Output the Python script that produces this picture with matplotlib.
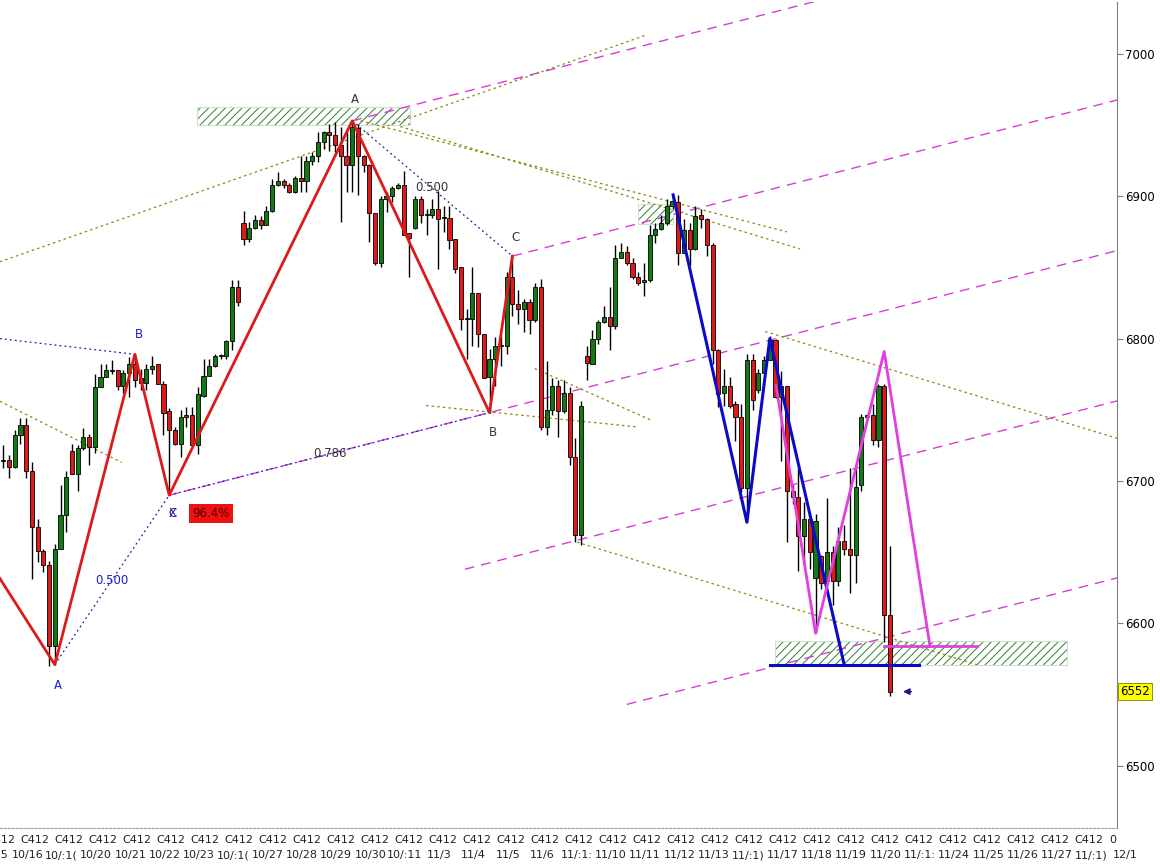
import matplotlib
matplotlib.use("Agg")
import matplotlib.pyplot as plt
from matplotlib.patches import Rectangle
from matplotlib.transforms import blended_transform_factory


# ------------------------------
# 1. data (4h bars, index 0 = first bar on screen)
# ------------------------------
opens = [6715, 6715, 6710, 6732, 6739, 6707, 6668, 6651, 6641, 6584,
         6652, 6676, 6721, 6705, 6723, 6731, 6724, 6766, 6773, 6777,
         6778, 6767, 6776, 6782, 6772, 6769, 6779, 6782, 6768, 6749,
         6736, 6726, 6746, 6746, 6725, 6760, 6774, 6781, 6788, 6788,
         6798, 6836, 6881, 6870, 6878, 6883, 6880, 6890, 6908, 6911,
         6908, 6903, 6913, 6911, 6925, 6928, 6938, 6945, 6943, 6936,
         6928, 6922, 6948, 6928, 6922, 6888, 6853, 6898, 6900, 6906,
         6908, 6874, 6878, 6898, 6887, 6887, 6891, 6885, 6885, 6870,
         6850, 6814, 6814, 6832, 6803, 6773, 6786, 6795, 6795, 6843,
         6824, 6821, 6826, 6813, 6836, 6738, 6750, 6767, 6749, 6762,
         6717, 6662, 6788, 6782, 6800, 6812, 6815, 6809, 6857, 6861,
         6853, 6843, 6840, 6841, 6873, 6877, 6881, 6893, 6896, 6860,
         6876, 6863, 6887, 6884, 6866, 6792, 6762, 6767, 6754, 6745,
         6695, 6785, 6764, 6776, 6785, 6799, 6759, 6767, 6693, 6689,
         6661, 6673, 6632, 6647, 6630, 6650, 6630, 6658, 6652, 6648,
         6697, 6745, 6746, 6729, 6767, 6606]
highs = [6725, 6718, 6736, 6744, 6744, 6713, 6673, 6652, 6644, 6656,
         6697, 6707, 6726, 6725, 6737, 6733, 6775, 6782, 6782, 6785,
         6778, 6778, 6787, 6789, 6779, 6782, 6788, 6782, 6770, 6751,
         6738, 6750, 6752, 6752, 6766, 6786, 6786, 6789, 6789, 6799,
         6841, 6841, 6890, 6882, 6887, 6886, 6893, 6912, 6917, 6912,
         6909, 6914, 6928, 6928, 6931, 6945, 6946, 6951, 6952, 6949,
         6948, 6953, 6951, 6929, 6923, 6888, 6900, 6903, 6907, 6909,
         6918, 6874, 6900, 6900, 6891, 6898, 6904, 6893, 6893, 6870,
         6850, 6821, 6850, 6832, 6803, 6793, 6801, 6802, 6847, 6858,
         6834, 6828, 6828, 6839, 6842, 6784, 6772, 6771, 6771, 6766,
         6730, 6756, 6795, 6806, 6813, 6823, 6836, 6866, 6867, 6865,
         6857, 6847, 6853, 6880, 6881, 6887, 6898, 6901, 6901, 6884,
         6881, 6893, 6891, 6885, 6867, 6793, 6779, 6773, 6756, 6754,
         6789, 6789, 6779, 6788, 6802, 6800, 6777, 6767, 6697, 6709,
         6685, 6676, 6677, 6648, 6688, 6654, 6668, 6669, 6709, 6709,
         6747, 6747, 6754, 6768, 6768, 6654]
lows = [6709, 6702, 6709, 6726, 6702, 6631, 6643, 6636, 6570, 6571,
        6652, 6664, 6705, 6693, 6722, 6711, 6720, 6766, 6773, 6775,
        6764, 6762, 6759, 6766, 6764, 6764, 6775, 6768, 6732, 6690,
        6725, 6717, 6738, 6725, 6719, 6759, 6774, 6780, 6786, 6786,
        6792, 6823, 6866, 6868, 6877, 6877, 6880, 6889, 6907, 6906,
        6902, 6902, 6903, 6903, 6922, 6924, 6933, 6932, 6931, 6882,
        6903, 6903, 6901, 6917, 6868, 6852, 6850, 6889, 6896, 6905,
        6873, 6843, 6877, 6881, 6873, 6885, 6849, 6875, 6863, 6846,
        6806, 6786, 6795, 6794, 6772, 6748, 6767, 6781, 6789, 6816,
        6810, 6805, 6803, 6812, 6736, 6732, 6746, 6731, 6748, 6711,
        6657, 6655, 6771, 6782, 6796, 6811, 6792, 6807, 6857, 6852,
        6842, 6838, 6830, 6840, 6867, 6876, 6880, 6891, 6852, 6860,
        6852, 6862, 6878, 6858, 6782, 6752, 6753, 6751, 6728, 6692,
        6671, 6750, 6762, 6775, 6785, 6758, 6714, 6657, 6684, 6637,
        6642, 6638, 6593, 6624, 6627, 6613, 6626, 6648, 6621, 6628,
        6693, 6743, 6725, 6724, 6587, 6549]
closes = [6714, 6710, 6732, 6739, 6707, 6668, 6651, 6641, 6584, 6652,
          6676, 6703, 6705, 6723, 6731, 6724, 6766, 6773, 6778, 6777,
          6767, 6776, 6782, 6771, 6769, 6779, 6781, 6768, 6748, 6736,
          6726, 6745, 6745, 6725, 6761, 6774, 6781, 6788, 6788, 6798,
          6836, 6826, 6870, 6878, 6883, 6880, 6890, 6908, 6911, 6908,
          6903, 6913, 6911, 6925, 6928, 6938, 6945, 6943, 6936, 6928,
          6922, 6949, 6928, 6922, 6888, 6853, 6898, 6900, 6906, 6908,
          6873, 6871, 6898, 6887, 6887, 6891, 6884, 6885, 6869, 6849,
          6814, 6814, 6832, 6803, 6772, 6786, 6795, 6795, 6843, 6824,
          6821, 6826, 6813, 6836, 6738, 6750, 6767, 6749, 6762, 6717,
          6662, 6753, 6783, 6800, 6812, 6815, 6809, 6857, 6861, 6853,
          6843, 6839, 6841, 6873, 6877, 6881, 6893, 6897, 6860, 6876,
          6863, 6886, 6884, 6866, 6792, 6761, 6767, 6753, 6745, 6695,
          6785, 6757, 6776, 6785, 6799, 6759, 6767, 6693, 6689, 6661,
          6673, 6650, 6672, 6628, 6650, 6630, 6658, 6652, 6648, 6696,
          6745, 6746, 6729, 6767, 6606, 6552]
last_price = 6552

# x axis labels (two rows, one per day)
top_labels = ["C412"] * 33 + ["0"]
date_labels = ["10/15", "10/16", "10/:1(", "10/20", "10/21", "10/22", "10/23",
               "10/:1(", "10/27", "10/28", "10/29", "10/30", "10/:11", "11/3",
               "11/4", "11/5", "11/6", "11/:1:", "11/10", "11/11", "11/12",
               "11/13", "11/:1)", "11/17", "11/18", "11/19", "11/20", "11/:1:",
               "11/24", "11/25", "11/26", "11/27", "11/:1)", "12/1"]
y_ticks = [6500, 6600, 6700, 6800, 6900, 7000]

# harmonic pattern pivots (bar index, price)
red_zz_x = [-1, 9, 23, 29, 61, 85, 89]
red_zz_y = [6634, 6571, 6789, 6690, 6953, 6748, 6858]
blue_zz_x = [117.1, 130, 134, 147]
blue_zz_y = [6901, 6671, 6800, 6571]
pink_zz_x = [135.1, 142, 154, 162]
pink_zz_y = [6767, 6593, 6791, 6584]

# parallel channel (magenta dashed): start bar / start price, common slope
chan_x = [61, 89, 29, 80.7, 109]
chan_y = [6953, 6858, 6690, 6638, 6543]
chan_slope = 1.037

# olive dotted trend lines: x0, x1, y0, y1
olive_x0 = [-0.6, -0.6, 61.5, 69.4, 73.9, 92.9, 100.3, 133.2]
olive_x1 = [112.2, 20.7, 137.0, 139.3, 110.8, 113.1, 170.2, 194.7]
olive_y0 = [6854, 6756, 6954, 6949, 6753, 6779, 6657, 6805]
olive_y1 = [7013, 6713, 6875, 6863, 6738, 6743, 6571, 6730]

# blue dotted ratio lines
bdot_x0 = [-0.6, 9, 61, 29]
bdot_x1 = [23, 29, 89, 85]
bdot_y0 = [6800, 6571, 6953, 6690]
bdot_y1 = [6789, 6690, 6858, 6748]

# hatched zones: x0, x1, y0, y1
zone_x0 = [33.9, 111.0, 134.9]
zone_x1 = [71.1, 117.1, 186.0]
zone_y0 = [6950, 6880.5, 6570.7]
zone_y1 = [6962.7, 6894.6, 6587.6]

# horizontal levels: x0, x1, price
blue_level = (134.0, 160.0, 6571)
pink_level = (154.0, 170.2, 6584)


# ------------------------------
# 2. drawing
# ------------------------------
RED = "#dd1a1a"
GREEN = "#137a13"
MAG = "#d83cd8"
OLIVE = "#8a8a10"
DBLUE = "#1a1acc"

plt.rcParams["hatch.linewidth"] = 0.7

fig = plt.figure(figsize=(11.6, 8.68), dpi=100)
ax = fig.add_axes([0, 40 / 868, 1117 / 1160, 826 / 868])
ax.set_xlim(-0.58, 194.7)
ax.set_ylim(6456.2, 7036.5)

# hatched zones
for x0, x1, y0, y1 in zip(zone_x0, zone_x1, zone_y0, zone_y1):
    ax.add_patch(Rectangle((x0, y0), x1 - x0, y1 - y0, facecolor="none",
                           edgecolor="#2f7f2f", hatch="////", lw=0, zorder=1))
    ax.add_patch(Rectangle((x0, y0), x1 - x0, y1 - y0, facecolor="none",
                           edgecolor="#d0e0d0", lw=0.8, zorder=1))

# channel lines
for sx, sy in zip(chan_x, chan_y):
    ex = 196
    ax.plot([sx, ex], [sy, sy + chan_slope * (ex - sx)], color=MAG, lw=1.0,
            linestyle=(0, (7, 5)), zorder=2)

# olive dotted lines
for x0, x1, y0, y1 in zip(olive_x0, olive_x1, olive_y0, olive_y1):
    ax.plot([x0, x1], [y0, y1], color=OLIVE, lw=0.9, linestyle=(0, (2, 2.5)), zorder=2)

# blue dotted lines
for x0, x1, y0, y1 in zip(bdot_x0, bdot_x1, bdot_y0, bdot_y1):
    ax.plot([x0, x1], [y0, y1], color="#2020a0", lw=0.9, linestyle=(0, (1.5, 2.5)), zorder=2)

# candles
for i in range(len(opens)):
    o, h, l, c = opens[i], highs[i], lows[i], closes[i]
    ax.vlines(i, l, h, color="black", lw=1.0, zorder=3)
    col = GREEN if c >= o else RED
    body = max(abs(c - o), 0.8)
    ax.add_patch(Rectangle((i - 0.36, min(o, c)), 0.72, body, facecolor=col,
                           edgecolor="black", lw=0.6, zorder=4))

# pattern legs
ax.plot(red_zz_x, red_zz_y, color=RED, lw=2.0, zorder=5)
ax.plot(blue_zz_x, blue_zz_y, color="#0a0ac8", lw=2.2, zorder=5)
ax.plot(pink_zz_x, pink_zz_y, color="#e040e0", lw=2.0, zorder=5)
ax.plot(blue_level[:2], [blue_level[2]] * 2, color="#0a0ac8", lw=2.2, zorder=5)
ax.plot(pink_level[:2], [pink_level[2]] * 2, color="#e040e0", lw=2.0, zorder=5)

# labels
lab = dict(fontsize=8.5, ha="center", va="center", zorder=6)
ax.text(9.6, 6556, "A", color=DBLUE, **lab)
ax.text(23.7, 6803, "B", color=DBLUE, **lab)
ax.text(29.6, 6677, "X", color=DBLUE, **lab)
ax.text(29.6, 6677, "C", color="#333355", **lab)
ax.text(19.0, 6630, "0.500", color=DBLUE, **lab)
ax.text(36.3, 6677, "96.4%", color="#5a0000",
        bbox=dict(boxstyle="square,pad=0.25", facecolor="#ee1111", edgecolor="none"), **lab)
ax.text(61.5, 6968, "A", color="#333333", **lab)
ax.text(74.9, 6906, "0.500", color="#333333", **lab)
ax.text(89.6, 6871, "C", color="#333333", **lab)
ax.text(85.6, 6734, "B", color="#333333", **lab)
ax.text(57.1, 6719, "0.786", color="#333333", **lab)
ax.annotate("", xy=(156.8, last_price), xytext=(159.2, last_price),
            arrowprops=dict(arrowstyle="-|>", color="#1a1a8c", lw=1.2,
                            mutation_scale=9), zorder=6)

# ------------------------------
# 3. axes styling
# ------------------------------
for side in ["left", "top"]:
    ax.spines[side].set_visible(False)
ax.spines["right"].set_color("#808080")
ax.spines["bottom"].set_color("#a0a0a0")
ax.spines["bottom"].set_linestyle((0, (2, 1.5)))

ax.yaxis.tick_right()
ax.set_yticks(y_ticks)
ax.set_yticklabels([str(v) for v in y_ticks], fontsize=8.5)
ax.tick_params(axis="y", length=4, color="#808080", pad=2)
ax.set_xticks([])

tr = blended_transform_factory(ax.transData, ax.transAxes)
for k, lbl in enumerate(top_labels):
    xc = 5.6 + 5.94 * (k - 1) if lbl != "0" else 194.0
    ax.text(xc, -0.015, lbl, transform=tr, fontsize=8, ha="center", va="center",
            color="#222222", clip_on=False)
for k, lbl in enumerate(date_labels):
    ax.text(4.2 + 6 * (k - 1), -0.033, lbl, transform=tr, fontsize=8,
            ha="center", va="center", color="#222222", clip_on=False)

# last price box
ax.text(1.003, (last_price - 6456.2) / (7036.5 - 6456.2), str(last_price),
        transform=ax.transAxes, fontsize=8.5, ha="left", va="center",
        bbox=dict(boxstyle="square,pad=0.2", facecolor="#ffff00",
                  edgecolor="#808000", lw=0.6), clip_on=False)

fig.savefig("out.png", dpi=100)
